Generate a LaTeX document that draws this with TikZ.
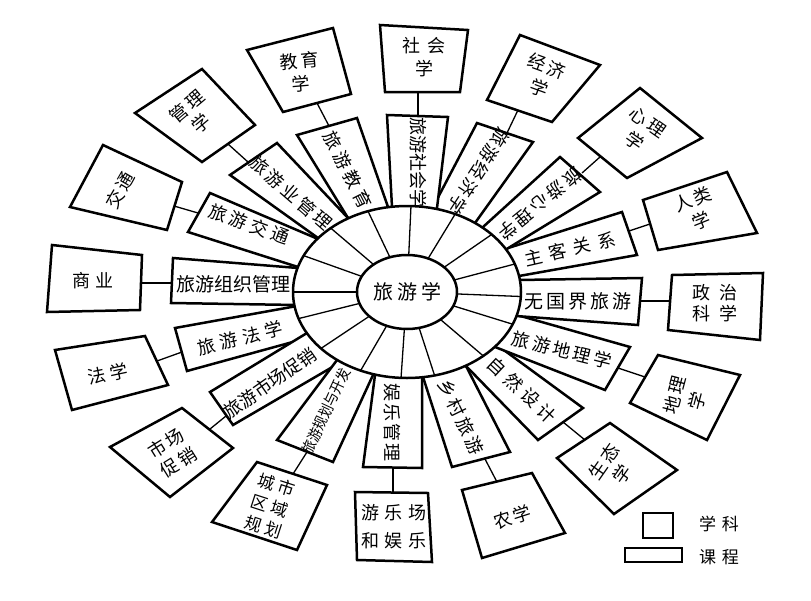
\documentclass[tikz,border=0pt]{standalone}
\usepackage{fontspec}
\setmainfont{Noto Sans CJK SC}
\usetikzlibrary{calc}
\tikzset{
  box/.style={draw, line width=2.5pt, fill=white, line join=miter},
  link/.style={line width=1.3pt},
  spoke/.style={line width=1.3pt},
  lbl/.style={inner sep=0pt, align=center},
  fs/.style n args={3}{font={\fontsize{#1}{#3}\selectfont\spaceskip #2pt\relax}},
}
\newcommand\course[4]{\draw[box] #1 -- ($#1!1.2!#3$) -- ($#2!1.2!#4$) -- #2 -- cycle;}
\newcommand\subj[4]{\draw[box] #1 -- #2 -- #3 -- #4 -- cycle;}
\begin{document}
\begin{tikzpicture}[x=1pt,y=-1pt]
\useasboundingbox (0,0) rectangle (811,600);
% discipline boxes
\subj{(52,245)}{(142,255)}{(140,310)}{(47,312)}
\subj{(55,350)}{(145,336)}{(168,385)}{(72,410)}
\subj{(110,447)}{(182,408)}{(233,448)}{(170,497)}
\subj{(257,462)}{(327,485)}{(297,550)}{(212,522)}
\subj{(355,492)}{(428,493)}{(432,562)}{(357,560)}
\subj{(462,490)}{(532,473)}{(565,533)}{(482,558)}
\subj{(557,458)}{(610,423)}{(677,470)}{(614,514)}
\subj{(658,355)}{(740,375)}{(707,440)}{(630,403)}
\subj{(672,275)}{(763,273)}{(760,340)}{(668,330)}
\subj{(643,200)}{(727,172)}{(757,233)}{(658,250)}
\subj{(640,88)}{(702,138)}{(627,178)}{(578,138)}
\subj{(520,35)}{(600,65)}{(552,122)}{(487,100)}
\subj{(380,25)}{(468,30)}{(460,92)}{(385,92)}
\subj{(247,50)}{(333,28)}{(351,94)}{(283,112)}
\subj{(135,113)}{(202,69)}{(255,125)}{(202,162)}
\subj{(103,145)}{(182,182)}{(167,230)}{(70,207)}
% connectors
\coordinate (k1a) at (142,283); \coordinate (k1b) at (172,283);
\coordinate (k2a) at (157,361); \coordinate (k2b) at (182,352);
\coordinate (k3a) at (210,429); \coordinate (k3b) at (226,416);
\coordinate (k4a) at (293,474); \coordinate (k4b) at (307,452);
\coordinate (k5a) at (393,468); \coordinate (k5b) at (393,493);
\coordinate (k6a) at (485,459); \coordinate (k6b) at (497,482);
\coordinate (k7a) at (563,422); \coordinate (k7b) at (585,440);
\coordinate (k8a) at (618,368); \coordinate (k8b) at (645,377);
\coordinate (k9a) at (640,301); \coordinate (k9b) at (670,301);
\coordinate (k10a) at (629,231); \coordinate (k10b) at (650,224);
\coordinate (k11a) at (582,173); \coordinate (k11b) at (600,157);
\coordinate (k12a) at (507,133); \coordinate (k12b) at (518,110);
\coordinate (k13a) at (418,116); \coordinate (k13b) at (418,92);
\coordinate (k14a) at (317,103); \coordinate (k14b) at (329,126);
\coordinate (k15a) at (228,144); \coordinate (k15b) at (248,162);
\coordinate (k16a) at (174,206); \coordinate (k16b) at (198,213);
\foreach \i in {1,...,16} \draw[link] (k\i a) -- (k\i b);
% course boxes
\course{(173,258)}{(171,303)}{(298,268)}{(297,305)}
\course{(175,328)}{(187,371)}{(297,306)}{(311,337)}
\course{(210,392)}{(233,425)}{(307,333)}{(341,362)}
\course{(277,440)}{(333,462)}{(337,360)}{(373,375)}
\course{(363,467)}{(422,468)}{(375,375)}{(422,377)}
\course{(452,467)}{(510,452)}{(423,377)}{(466,366)}
\course{(538,440)}{(583,408)}{(466,366)}{(497,345)}
\course{(605,390)}{(630,347)}{(495,347)}{(517,315)}
\course{(638,325)}{(642,278)}{(516,316)}{(519,280)}
\course{(637,255)}{(622,212)}{(519,276)}{(505,249)}
\course{(600,192)}{(560,157)}{(510,247)}{(483,227)}
\course{(533,142)}{(477,123)}{(475,223)}{(433,207)}
\course{(448,117)}{(387,115)}{(437,208)}{(392,207)}
\course{(357,118)}{(297,135)}{(388,207)}{(348,218)}
\course{(277,143)}{(230,175)}{(348,218)}{(318,238)}
\course{(210,193)}{(188,232)}{(318,239)}{(298,267)}
% ring
\draw[line width=2.5pt, fill=white] (407,292) ellipse [x radius=114, y radius=86];
\foreach \t in {180,155,132,110,88,65,42,19,-3,-22,-48,-76,-93,-114,-139,-162}
  \draw[spoke] ({407+50*cos(\t)},{292-37*sin(\t)}) -- ({407+114*cos(\t)},{292-86*sin(\t)});
\draw[line width=2.5pt, fill=white] (407,292) ellipse [x radius=50, y radius=37];
\node[lbl,fs={20}{4}{22}] (core) at (407,292) {旅 游 学};
% course labels
\node[lbl,fs={19}{0}{22}] (c1) at (233,284) {旅游组织管理};
\node[lbl,fs={18}{5}{22},rotate=14] (c2) at (240,338) {旅 游 法 学};
\node[lbl,fs={18}{0}{22},rotate=35] (c3) at (270,383) {旅游市场促销};
\node[lbl,fs={15}{0}{18},rotate=65] (c4) at (326,411) {\scalebox{0.88}[1]{旅游规划与开发}};
\node[lbl,fs={18}{2}{22},rotate=-90] (c5) at (392,422) {娱 乐 管 理};
\node[lbl,fs={18}{3}{22},rotate=-64] (c6) at (461,417) {乡 村 旅 游};
\node[lbl,fs={18}{5}{22},rotate=-43] (c7) at (522,390) {自 然 设 计};
\node[lbl,fs={18}{3}{22},rotate=-14] (c8) at (562,350) {旅 游 地 理 学};
\node[lbl,fs={19}{3}{22}] (c9) at (578,301) {无 国 界 旅 游};
\node[lbl,fs={18}{7}{22},rotate=13] (c10) at (570,249) {主 客 关 系};
\node[lbl,fs={18}{3}{22},rotate=-141] (c11) at (540,204) {旅 游 心 理 学};
\node[lbl,fs={18}{2}{22},rotate=-123] (c12) at (479,171) {旅 游 经 济 学};
\node[lbl,fs={18}{0}{22},rotate=-90] (c13) at (418,162) {旅游社会学};
\node[lbl,fs={18}{4}{22},rotate=-63] (c14) at (348,170) {旅 游 教 育};
\node[lbl,fs={18}{3}{22},rotate=-41] (c15) at (291,193) {旅 游 业 管 理};
\node[lbl,fs={18}{4}{22},rotate=-20] (c16) at (249,224) {旅 游 交 通};
% discipline labels
\node[lbl,fs={18}{5}{22}] (d1) at (93,281) {商 业};
\node[lbl,fs={18}{4}{22},rotate=12] (d2) at (108,374) {法 学};
\node[lbl,fs={18}{3}{23},rotate=32] (d3) at (172,453) {市 场\\促 销};
\node[lbl,fs={17}{4}{22},rotate=-18] (d4) at (270,506) {城 市\\区 域\\规 划};
\node[lbl,fs={18}{6}{28}] (d5) at (394,527) {游 乐 场\\和 娱 乐};
\node[lbl,fs={18}{2}{22},rotate=18] (d6) at (512,517) {农 学};
\node[lbl,fs={18}{3}{23},rotate=55] (d7) at (613,468) {生 态\\学};
\node[lbl,fs={18}{3}{23},rotate=75] (d8) at (686,398) {地 理\\学};
\node[lbl,fs={18}{9}{21}] (d9) at (715,303) {政 治\\科 学};
\node[lbl,fs={18}{3}{23},rotate=22] (d10) at (697,210) {人 类\\学};
\node[lbl,fs={18}{3}{23},rotate=-35] (d11) at (641,132) {心 理\\学};
\node[lbl,fs={18}{3}{23},rotate=-20] (d12) at (543,77) {经 济\\学};
\node[lbl,fs={18}{8}{23}] (d13) at (424,57) {社 会\\学};
\node[lbl,fs={18}{3}{23},rotate=5] (d14) at (300,72) {教 育\\学};
\node[lbl,fs={18}{3}{23},rotate=40] (d15) at (194,115) {管 理\\学};
\node[lbl,fs={18}{3}{22},rotate=60] (d16) at (120,190) {交 通};
% legend
\node[draw, line width=2.5pt, minimum width=30pt, minimum height=25pt, inner sep=0pt] (lg1) at (658,525.5) {};
\node[draw, line width=2.5pt, minimum width=57pt, minimum height=14pt, inner sep=0pt] (lg2) at (653.5,555) {};
\node[lbl,fs={17}{6}{20}] (lt1) at (719,524) {学 科};
\node[lbl,fs={17}{6}{20}] (lt2) at (719,557) {课 程};
\end{tikzpicture}
\end{document}
